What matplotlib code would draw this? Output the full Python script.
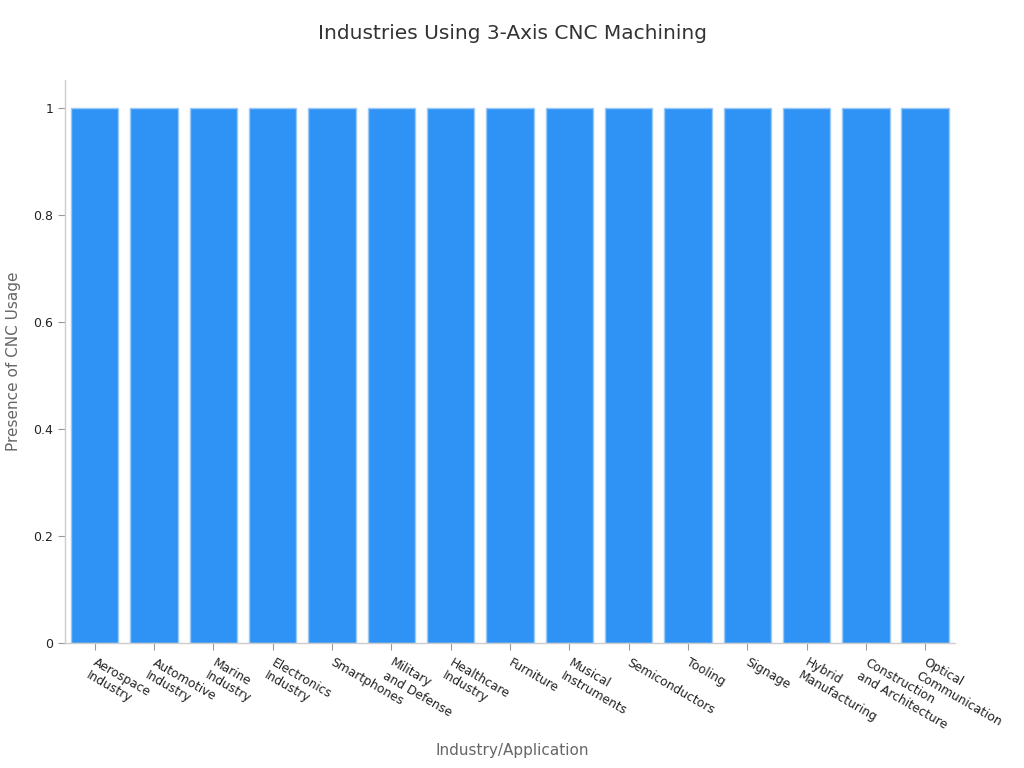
import matplotlib
matplotlib.use("Agg")
import matplotlib.pyplot as plt
import matplotlib.transforms as mtransforms
from matplotlib.ticker import FuncFormatter

categories = ["Aerospace\nIndustry", "Automotive\nIndustry", "Marine\nIndustry",
              "Electronics\nIndustry", "Smartphones", "Military\nand Defense",
              "Healthcare\nIndustry", "Furniture", "Musical\nInstruments",
              "Semiconductors", "Tooling", "Signage", "Hybrid\nManufacturing",
              "Construction\nand Architecture", "Optical\nCommunication"]
values = [1, 1, 1, 1, 1, 1, 1, 1, 1, 1, 1, 1, 1, 1, 1]
yticks = [0, 0.2, 0.4, 0.6, 0.8, 1.0]

fig = plt.figure(figsize=(10.24, 7.68), dpi=100)
ax = fig.add_axes([0.0635, 0.1628, 0.869, 0.733])

x = list(range(len(categories)))
ax.bar(x, values, width=0.8, color="#2E93F5", edgecolor="#9CC9F5", linewidth=1.0, zorder=2)

ax.set_xlim(-0.5, 14.5)
ax.set_ylim(0, 1.052)
ax.set_yticks(yticks)
ax.yaxis.set_major_formatter(FuncFormatter(lambda v, p: f"{v:g}"))
ax.set_xticks(x)
ax.set_xticklabels([])
base = mtransforms.blended_transform_factory(ax.transData, ax.transAxes)
offset = mtransforms.ScaledTranslation(3 / 100, -13 / 100, fig.dpi_scale_trans)
for xi, cat in zip(x, categories):
    ax.text(xi, 0, cat, transform=base + offset, rotation=-30, ha="left", va="top",
            rotation_mode="anchor", multialignment="left", fontsize=8.8, color="#222222",
            clip_on=False)
ax.tick_params(axis="y", labelsize=9, colors="#222222", length=5, width=0.8, color="#999999")
ax.tick_params(axis="x", length=5, width=0.8, color="#999999")
for lab in ax.get_yticklabels():
    lab.set_color("#222222")

for s in ["top", "right"]:
    ax.spines[s].set_visible(False)
for s in ["left", "bottom"]:
    ax.spines[s].set_color("#cccccc")
    ax.spines[s].set_linewidth(1.0)

ax.set_ylabel("Presence of CNC Usage", fontsize=11, color="#666666", labelpad=9)
fig.text(0.5, 1 - 750 / 768, "Industry/Application", ha="center", va="center",
         fontsize=11, color="#666666")
fig.text(0.5, 0.957, "Industries Using 3-Axis CNC Machining", ha="center", va="center",
         fontsize=14.5, color="#333333")

fig.savefig("out.png", dpi=100)
